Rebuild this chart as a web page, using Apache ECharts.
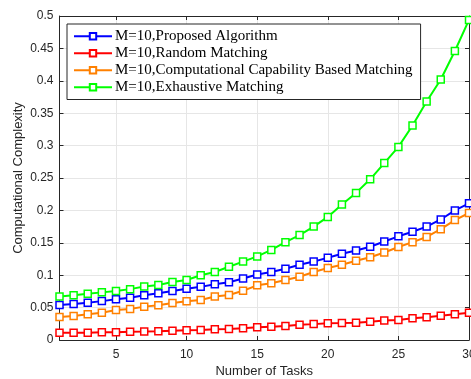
<!DOCTYPE html>
<html>
<head>
<meta charset="utf-8">
<script src="https://cdn.jsdelivr.net/npm/echarts@6/dist/echarts.min.js"></script>
<style>html,body{margin:0;padding:0;background:#fff;}#c{width:471px;height:379px;}</style>
</head>
<body>
<div id="c"></div>
<script>
const tasks = [1,2,3,4,5,6,7,8,9,10,11,12,13,14,15,16,17,18,19,20,21,22,23,24,25,26,27,28,29,30];
const proposed = [0.054,0.0556,0.0576,0.060,0.063,0.0653,0.069,0.072,0.0756,0.079,0.082,0.086,0.089,0.095,0.101,0.105,0.110,0.116,0.121,0.127,0.133,0.138,0.144,0.152,0.160,0.167,0.175,0.186,0.200,0.211];
const randomM = [0.011,0.011,0.0113,0.0118,0.012,0.0128,0.013,0.0134,0.0144,0.015,0.0155,0.0165,0.017,0.018,0.0195,0.0205,0.0215,0.0235,0.0245,0.0258,0.0262,0.0268,0.028,0.030,0.031,0.0334,0.035,0.0375,0.0396,0.042];
const capability = [0.0355,0.037,0.0396,0.042,0.0463,0.048,0.0515,0.0535,0.057,0.0597,0.0617,0.067,0.0694,0.076,0.0844,0.0875,0.0926,0.0977,0.105,0.111,0.116,0.1224,0.1276,0.135,0.1435,0.151,0.159,0.171,0.185,0.196];
const exhaustive = [0.067,0.069,0.0715,0.0735,0.0755,0.0785,0.0825,0.085,0.0895,0.0925,0.100,0.105,0.113,0.121,0.129,0.139,0.151,0.162,0.175,0.190,0.209,0.227,0.248,0.273,0.298,0.331,0.368,0.402,0.446,0.494];
const xTicks = [5,10,15,20,25,30];
const seriesNames = ['M=10,Proposed Algorithm','M=10,Random Matching','M=10,Computational Capability Based Matching','M=10,Exhaustive Matching'];
const colors = ['#0000ff','#ff0000','#ff8000','#00ff00'];
const values = [proposed, randomM, capability, exhaustive];

const axisColor = '#262626';
const gridColor = '#e6e6e6';
const chart = echarts.init(document.getElementById('c'), null, {renderer:'canvas'});
const grid = {left:59.5, right:2, top:16, bottom:39, containLabel:false, outerBoundsMode:'none'};
const series = values.map((v,i)=>({
  name: seriesNames[i], type:'line', xAxisIndex:0, yAxisIndex:0,
  data: tasks.map((t,j)=>[t, v[j]]),
  symbol:'rect', symbolSize:7, showSymbol:true,
  lineStyle:{color:colors[i], width:2},
  itemStyle:{color:'#ffffff', borderColor:colors[i], borderWidth:1.5},
  color: colors[i],
  animation:false, z: 2+i
}));
chart.setOption({
  animation:false,
  grid: grid,
  legend: {
    show:true, orient:'vertical', left:67, top:24,
    itemWidth:38, itemHeight:8, itemGap:0.5,
    backgroundColor:'#ffffff', borderColor:'#262626', borderWidth:1,
    padding:[4,8,4,6],
    textStyle:{fontFamily:'Liberation Serif', fontSize:15, lineHeight:16.5, color:'#000', padding:[0,0,0,-2]},
    data: seriesNames
  },
  xAxis: [{
    type:'value', min:1, max:30, position:'bottom',
    name:'Number of Tasks', nameLocation:'middle', nameGap:25, nameMoveOverlap:false,
    nameTextStyle:{fontFamily:'Liberation Sans', fontSize:13, color:axisColor},
    axisLine:{show:true, onZero:false, lineStyle:{color:axisColor, width:1}},
    axisTick:{show:true, inside:true, length:4, customValues:xTicks, lineStyle:{color:axisColor}},
    axisLabel:{show:true, customValues:xTicks, margin:9, fontFamily:'Liberation Sans', fontSize:12, color:axisColor, showMinLabel:true, showMaxLabel:true},
    splitLine:{show:true, lineStyle:{color:gridColor, width:1}}
  },{
    type:'value', min:1, max:30, position:'top',
    axisLine:{show:true, onZero:false, lineStyle:{color:axisColor, width:1}},
    axisTick:{show:true, inside:true, length:4, customValues:xTicks, lineStyle:{color:axisColor}},
    axisLabel:{show:false}, splitLine:{show:false}
  }],
  yAxis: [{
    type:'value', min:0, max:0.5, interval:0.05, position:'left',
    name:'Computational Complexity', nameLocation:'middle', nameGap:35, nameMoveOverlap:false,
    nameTextStyle:{fontFamily:'Liberation Sans', fontSize:13, color:axisColor},
    axisLine:{show:true, onZero:false, lineStyle:{color:axisColor, width:1}},
    axisTick:{show:true, inside:true, length:4, lineStyle:{color:axisColor}},
    axisLabel:{show:true, margin:6, fontFamily:'Liberation Sans', fontSize:12, color:axisColor,
      formatter:(v)=>String(Math.round(v*100)/100)},
    splitLine:{show:true, lineStyle:{color:gridColor, width:1}}
  },{
    type:'value', min:0, max:0.5, interval:0.05, position:'right',
    axisLine:{show:true, onZero:false, lineStyle:{color:axisColor, width:1}},
    axisTick:{show:true, inside:true, length:4, lineStyle:{color:axisColor}},
    axisLabel:{show:false}, splitLine:{show:false}
  }],
  series: series
});
</script>
</body>
</html>
